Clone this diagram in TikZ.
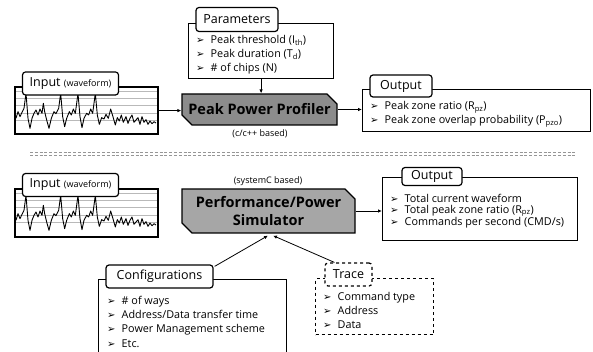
\documentclass[tikz,border=0pt]{standalone}
\usepackage{fontspec}
\setmainfont{Open Sans}
\newfontfamily\symf{DejaVu Sans}
\usetikzlibrary{arrows.meta,shapes.misc}
\definecolor{profgray}{RGB}{140,140,140}
\definecolor{simgray}{RGB}{166,166,166}
\definecolor{gridgray}{RGB}{185,185,185}
\definecolor{sepgray}{RGB}{150,150,150}
\newcommand\bul{\makebox[14.5pt][l]{\symf\fontsize{10}{10}\selectfont ➢}}
\newcommand\wavepts{(18,100) (24,80) (30,95) (36,82) (42,70) (48,25) (54,100) (60,130) (66,100) (72,85) (78,75) (84,90) (90,72) (96,85) (100,55) (104,80) (110,105) (117,130) (124,100) (132,80) (138,86) (146,70) (152,25) (158,95) (164,125) (170,100) (178,80) (184,90) (190,72) (196,85) (204,25) (210,95) (216,128) (222,100) (230,85) (236,90) (242,72) (248,85) (256,25) (262,90) (268,118) (275,98) (282,102) (288,88) (295,100) (302,72) (308,92) (316,120) (322,98) (328,108) (334,90) (340,112) (348,95) (354,115) (360,100) (366,90) (372,112) (378,105) (384,98) (390,118) (396,95) (402,112) (408,104) (414,118) (420,108) (426,116) (432,110) (438,114)}
\tikzset{
  box/.style={draw=black, line width=1.2pt, fill=white, inner sep=0pt, anchor=north west},
  tagbox/.style={draw=black, line width=1.2pt, fill=white, rounded corners=3pt, inner sep=0pt, font=\fontsize{12.5}{12.5}\selectfont},
  core/.style={chamfered rectangle, chamfered rectangle corners={north east,south west}, chamfered rectangle xsep=5pt, chamfered rectangle ysep=5pt, draw=black, line width=1.2pt, inner sep=0pt, font=\bfseries\fontsize{14.5}{18}\selectfont, align=center},
  lst/.style={anchor=west, align=left, inner sep=0pt, font=\fontsize{10.8}{14}\selectfont},
  note/.style={inner sep=0pt, font=\fontsize{9}{10}\selectfont},
  arr/.style={line width=0.8pt, -{Latex[length=4pt,width=3.5pt]}},
  sep/.style={draw=sepgray, line width=0.8pt, dash pattern=on 3pt off 1.8pt},
  gridl/.style={draw=gridgray, line width=0.5pt},
  wave/.style={draw=black, line width=0.9pt, line join=round}
}
\begin{document}
\begin{tikzpicture}[x=1pt,y=-1pt]
\useasboundingbox (0,0) rectangle (593,352);
% ---------- top section ----------
\node[box, minimum width=145pt, minimum height=55pt] (params) at (188,23) {};
\node[tagbox, minimum width=82pt, minimum height=24pt] (paramtag) at (237,19.5) {Parameters};
\node[lst] (paramlist) at (196,55) {\bul Peak threshold (I\textsubscript{th})\\ \bul Peak duration (T\textsubscript{d})\\ \bul \# of chips (N)};

\node[box, minimum width=142pt, minimum height=46pt] (in1) at (15,87) {};
\begin{scope}
  \clip (in1.south west) rectangle (in1.north east);
  \foreach \g in {4,11,18.5,26,33.5} \draw[gridl] (15,87+\g) -- (157,87+\g);
  \begin{scope}[shift={(10,85)}]
    \draw[wave, x=0.3333pt, y=-0.3333pt] plot coordinates {\wavepts};
  \end{scope}
\end{scope}
\draw[line width=1.2pt] (in1.south west) rectangle (in1.north east);
\node[tagbox, minimum width=96pt, minimum height=23pt] (in1tag) at (70.5,83.5) {Input {\fontsize{9}{9}\selectfont(waveform)}};

\node[core, fill=profgray, minimum width=155pt, minimum height=31pt] (prof) at (259.5,109.5) {Peak Power Profiler};
\node[note] (profnote) at (260,134) {(c/c++ based)};

\node[box, minimum width=228pt, minimum height=42pt] (out1) at (362,89) {};
\node[tagbox, minimum width=62pt, minimum height=22pt] (out1tag) at (401,86) {Output};
\node[lst] (out1list) at (370,114) {\bul Peak zone ratio (R\textsubscript{pz})\\ \bul Peak zone overlap probability (P\textsubscript{pzo})};

\draw[arr] (params.south) -- (params.south |- prof.north);
\draw[arr] (in1.east) -- (in1.east -| prof.west);
\draw[arr] (prof.east) -- (prof.east -| out1.west);

% ---------- separator ----------
\draw[sep] (30,152.5) -- (575,152.5);
\draw[sep] (30,155.5) -- (575,155.5);

% ---------- bottom section ----------
\node[box, minimum width=142pt, minimum height=47pt] (in2) at (15,189) {};
\begin{scope}
  \clip (in2.south west) rectangle (in2.north east);
  \foreach \g in {4,11,18.5,26,33.5} \draw[gridl] (15,189+\g) -- (157,189+\g);
  \begin{scope}[shift={(10,187)}]
    \draw[wave, x=0.3333pt, y=-0.3333pt] plot coordinates {\wavepts};
  \end{scope}
\end{scope}
\draw[line width=1.2pt] (in2.south west) rectangle (in2.north east);
\node[tagbox, minimum width=96pt, minimum height=23pt] (in2tag) at (70.5,185) {Input {\fontsize{9}{9}\selectfont(waveform)}};

\node[note] (simnote) at (268,181) {(systemC based)};
\node[core, fill=simgray, minimum width=173pt, minimum height=44pt] (sim) at (268.5,211) {Performance/Power\\Simulator};

\node[box, minimum width=195pt, minimum height=63pt] (out2) at (382,177) {};
\node[tagbox, minimum width=60pt, minimum height=18pt] (out2tag) at (432,176.5) {Output};
\node[lst, font=\fontsize{10.8}{10.6}\selectfont] (out2list) at (390,211.5) {\bul Total current waveform\\ \bul Total peak zone ratio (R\textsubscript{pz})\\ \bul Commands per second (CMD/s)};
\draw[arr] (sim.east) -- (sim.east -| out2.west);

\node[box, minimum width=188pt, minimum height=90pt] (conf) at (98,279) {};
\node[tagbox, minimum width=107pt, minimum height=23pt] (conftag) at (159.5,276.5) {Configurations};
\node[lst, font=\fontsize{10.8}{14.3}\selectfont] (conflist) at (107,321.5) {\bul \# of ways\\ \bul Address/Data transfer time\\ \bul Power Management scheme\\ \bul Etc.};

\node[box, dashed, minimum width=118pt, minimum height=56pt] (trace) at (315,278) {};
\node[tagbox, dashed, minimum width=47pt, minimum height=23pt] (tracetag) at (348.5,274.5) {Trace};
\node[lst] (tracelist) at (323,310) {\bul Command type\\ \bul Address\\ \bul Data};

\draw[arr] ([xshift=1pt,yshift=-2pt]conftag.north east) -- ([xshift=-0.5pt,yshift=-2pt]sim.south);
\draw[arr] ([xshift=10pt]tracetag.north west) -- ([xshift=4.5pt,yshift=-2pt]sim.south);
\end{tikzpicture}
\end{document}
